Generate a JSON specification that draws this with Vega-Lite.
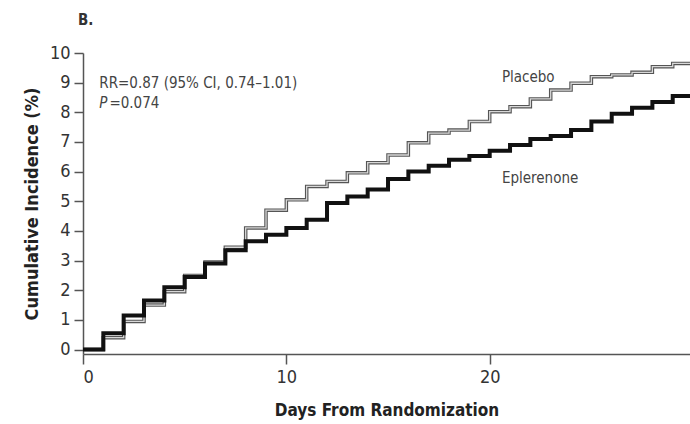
{
  "$schema": "https://vega.github.io/schema/vega-lite/v6.json",
  "width": 607,
  "height": 301,
  "autosize": {"type": "none"},
  "padding": {"left": 83, "top": 53, "right": 0, "bottom": 70},
  "background": "white",
  "config": {"view": {"stroke": null}, "font": "DejaVu Sans Condensed, sans-serif"},
  "datasets": {
    "curves": [
      {"series": "Placebo", "day": 0, "value": 0},
      {"series": "Placebo", "day": 1, "value": 0.4},
      {"series": "Placebo", "day": 2, "value": 0.95},
      {"series": "Placebo", "day": 3, "value": 1.5},
      {"series": "Placebo", "day": 4, "value": 1.95},
      {"series": "Placebo", "day": 5, "value": 2.5},
      {"series": "Placebo", "day": 6, "value": 2.95},
      {"series": "Placebo", "day": 7, "value": 3.45},
      {"series": "Placebo", "day": 8, "value": 4.1},
      {"series": "Placebo", "day": 9, "value": 4.7},
      {"series": "Placebo", "day": 10, "value": 5.05},
      {"series": "Placebo", "day": 11, "value": 5.5},
      {"series": "Placebo", "day": 12, "value": 5.67},
      {"series": "Placebo", "day": 13, "value": 5.96},
      {"series": "Placebo", "day": 14, "value": 6.3},
      {"series": "Placebo", "day": 15, "value": 6.56},
      {"series": "Placebo", "day": 16, "value": 6.97},
      {"series": "Placebo", "day": 17, "value": 7.3},
      {"series": "Placebo", "day": 18, "value": 7.4},
      {"series": "Placebo", "day": 19, "value": 7.69},
      {"series": "Placebo", "day": 20, "value": 8.02},
      {"series": "Placebo", "day": 21, "value": 8.19},
      {"series": "Placebo", "day": 22, "value": 8.45},
      {"series": "Placebo", "day": 23, "value": 8.75},
      {"series": "Placebo", "day": 24, "value": 8.98},
      {"series": "Placebo", "day": 25, "value": 9.2},
      {"series": "Placebo", "day": 26, "value": 9.26},
      {"series": "Placebo", "day": 27, "value": 9.35},
      {"series": "Placebo", "day": 28, "value": 9.54},
      {"series": "Placebo", "day": 29, "value": 9.65},
      {"series": "Placebo", "day": 30, "value": 9.76},
      {"series": "Eplerenone", "day": 0, "value": 0},
      {"series": "Eplerenone", "day": 1, "value": 0.55},
      {"series": "Eplerenone", "day": 2, "value": 1.15},
      {"series": "Eplerenone", "day": 3, "value": 1.65},
      {"series": "Eplerenone", "day": 4, "value": 2.1},
      {"series": "Eplerenone", "day": 5, "value": 2.45},
      {"series": "Eplerenone", "day": 6, "value": 2.9},
      {"series": "Eplerenone", "day": 7, "value": 3.35},
      {"series": "Eplerenone", "day": 8, "value": 3.65},
      {"series": "Eplerenone", "day": 9, "value": 3.87},
      {"series": "Eplerenone", "day": 10, "value": 4.1},
      {"series": "Eplerenone", "day": 11, "value": 4.38},
      {"series": "Eplerenone", "day": 12, "value": 4.94},
      {"series": "Eplerenone", "day": 13, "value": 5.16},
      {"series": "Eplerenone", "day": 14, "value": 5.4},
      {"series": "Eplerenone", "day": 15, "value": 5.75},
      {"series": "Eplerenone", "day": 16, "value": 6.0},
      {"series": "Eplerenone", "day": 17, "value": 6.2},
      {"series": "Eplerenone", "day": 18, "value": 6.4},
      {"series": "Eplerenone", "day": 19, "value": 6.53},
      {"series": "Eplerenone", "day": 20, "value": 6.7},
      {"series": "Eplerenone", "day": 21, "value": 6.9},
      {"series": "Eplerenone", "day": 22, "value": 7.1},
      {"series": "Eplerenone", "day": 23, "value": 7.2},
      {"series": "Eplerenone", "day": 24, "value": 7.4},
      {"series": "Eplerenone", "day": 25, "value": 7.69},
      {"series": "Eplerenone", "day": 26, "value": 7.95},
      {"series": "Eplerenone", "day": 27, "value": 8.15},
      {"series": "Eplerenone", "day": 28, "value": 8.35},
      {"series": "Eplerenone", "day": 29, "value": 8.55},
      {"series": "Eplerenone", "day": 30, "value": 8.55}
    ],
    "notes": [
      {"label": "RR=0.87 (95% CI, 0.74–1.01)", "day": 0.8, "value": 9.0},
      {"label": "=0.074", "day": 1.3, "value": 8.3},
      {"label": "Placebo", "day": 20.6, "value": 9.2},
      {"label": "Eplerenone", "day": 20.6, "value": 5.8}
    ],
    "italic": [
      {"label": "P", "day": 0.8, "value": 8.3}
    ],
    "panel": [
      {"label": "B.", "day": -0.25, "value": 11.1}
    ]
  },
  "encoding": {
    "x": {
      "field": "day", "type": "quantitative",
      "scale": {"domain": [0, 29.85], "nice": false, "zero": false},
      "axis": {"values": [0, 10, 20], "grid": false, "title": "Days From Randomization", "titleFontSize": 17, "titleFontWeight": "bold", "titleColor": "#222", "titlePadding": 16, "labelFontSize": 18, "labelColor": "#333", "labelPadding": 4, "tickSize": 10, "tickColor": "#555", "domainColor": "#555", "domainWidth": 1.5, "tickWidth": 1.5}
    },
    "y": {
      "field": "value", "type": "quantitative",
      "scale": {"domain": [-0.15, 10], "nice": false, "zero": false},
      "axis": {"values": [0, 1, 2, 3, 4, 5, 6, 7, 8, 9, 10], "grid": false, "title": "Cumulative Incidence (%)", "titleFontSize": 18, "titleFontWeight": "bold", "titleColor": "#222", "titlePadding": 8, "labelFontSize": 18, "labelColor": "#333", "labelPadding": 4, "tickSize": 9, "tickColor": "#555", "domainColor": "#555", "domainWidth": 1.5, "tickWidth": 1.5}
    }
  },
  "layer": [
    {
      "data": {"name": "curves"},
      "transform": [{"filter": "datum.series === 'Placebo'"}],
      "mark": {"type": "line", "interpolate": "step-after", "stroke": "#555", "strokeWidth": 3.5, "clip": true}
    },
    {
      "data": {"name": "curves"},
      "transform": [{"filter": "datum.series === 'Placebo'"}],
      "mark": {"type": "line", "interpolate": "step-after", "stroke": "#d8d8d8", "strokeWidth": 1.3, "clip": true}
    },
    {
      "data": {"name": "curves"},
      "transform": [{"filter": "datum.series === 'Eplerenone'"}],
      "mark": {"type": "line", "interpolate": "step-after", "stroke": "#111", "strokeWidth": 4, "clip": true}
    },
    {
      "data": {"name": "notes"},
      "mark": {"type": "text", "align": "left", "baseline": "middle", "fontSize": 15, "color": "#444"},
      "encoding": {"text": {"field": "label"}}
    },
    {
      "data": {"name": "italic"},
      "mark": {"type": "text", "align": "left", "baseline": "middle", "fontSize": 15, "fontStyle": "italic", "color": "#444"},
      "encoding": {"text": {"field": "label"}}
    },
    {
      "data": {"name": "panel"},
      "mark": {"type": "text", "align": "left", "baseline": "middle", "fontSize": 15, "fontWeight": "bold", "color": "#333"},
      "encoding": {"text": {"field": "label"}}
    }
  ]
}
